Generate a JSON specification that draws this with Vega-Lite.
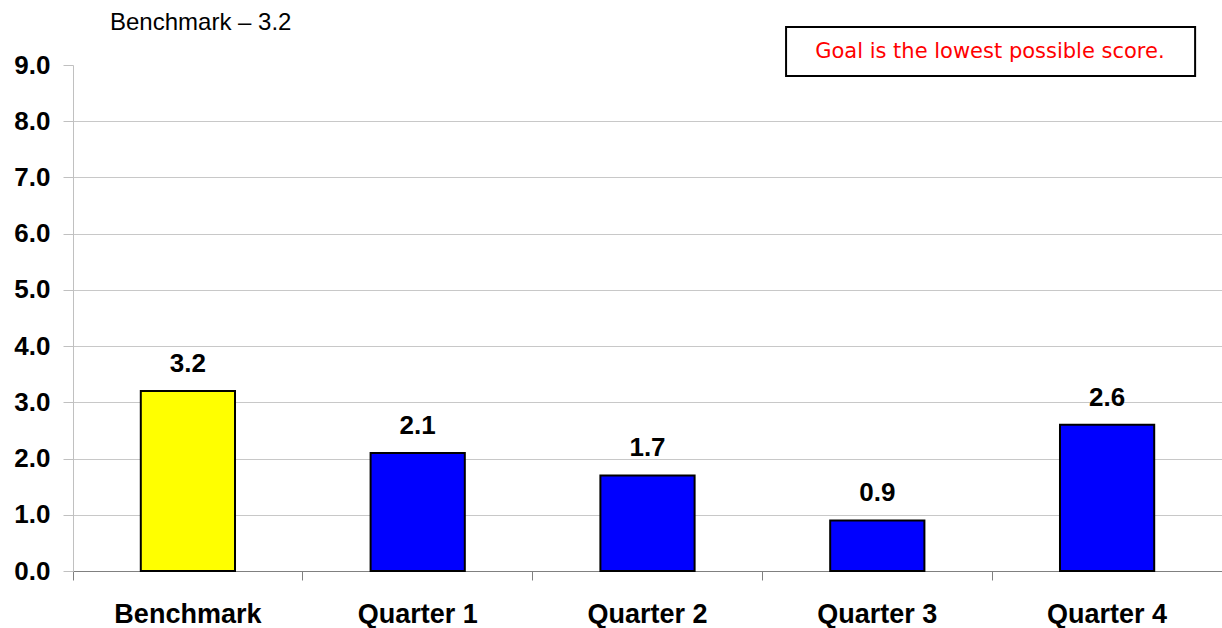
{
  "$schema": "https://vega.github.io/schema/vega-lite/v6.json",
  "width": 1149,
  "height": 506,
  "autosize": {"type": "none"},
  "padding": {"left": 73, "top": 65, "right": 0, "bottom": 57},
  "background": "white",
  "title": {"text": "Benchmark – 3.2", "anchor": "start", "frame": "group", "dx": 37, "offset": -28, "baseline": "alphabetic", "font": "Liberation Sans", "fontSize": 24, "fontWeight": "normal", "color": "black"},
  "config": {"view": {"stroke": null}, "font": "Liberation Sans"},
  "datasets": {
    "scores": [
      {"category": "Benchmark", "value": 3.2},
      {"category": "Quarter 1", "value": 2.1},
      {"category": "Quarter 2", "value": 1.7},
      {"category": "Quarter 3", "value": 0.9},
      {"category": "Quarter 4", "value": 2.6}
    ],
    "note": [
      {"x1": 3.103, "x2": 4.883, "y1": 8.804, "y2": 9.676, "xm": 3.99, "ym": 9.23, "text": "Goal is the lowest possible score."}
    ]
  },
  "layer": [
    {
      "layer": [
        {
          "data": {"name": "scores"},
          "mark": {"type": "bar", "stroke": "black", "strokeWidth": 2},
          "encoding": {
            "x": {"field": "category", "type": "nominal", "sort": null,
              "scale": {"paddingInner": 0.59, "paddingOuter": 0.295},
              "axis": {"title": null, "labelAngle": 0, "bandPosition": -0.7195, "ticks": true, "domainColor": "#808080", "tickColor": "#808080", "tickSize": 9, "tickWidth": 1, "labelFontSize": 27, "labelFontWeight": "bold", "labelColor": "black", "labelPadding": 21, "grid": false}},
            "y": {"field": "value", "type": "quantitative",
              "scale": {"domain": [0, 9], "nice": false},
              "axis": {"title": null, "values": [0, 1, 2, 3, 4, 5, 6, 7, 8, 9], "format": ".1f", "domainColor": "#c0c0c0", "tickColor": "#c0c0c0", "tickSize": 10, "labelFontSize": 26, "labelFontWeight": "bold", "labelColor": "black", "labelPadding": 13, "gridColor": "#c8c8c8", "gridOpacity": {"condition": {"test": "datum.value === 9", "value": 0}, "value": 1}}},
            "color": {"condition": {"test": "datum.category === 'Benchmark'", "value": "#ffff00"}, "value": "#0000ff"}
          }
        },
        {
          "data": {"name": "scores"},
          "mark": {"type": "text", "baseline": "bottom", "dy": -14, "fontSize": 26, "fontWeight": "bold", "color": "black"},
          "encoding": {
            "x": {"field": "category", "type": "nominal", "sort": null},
            "y": {"field": "value", "type": "quantitative"},
            "text": {"field": "value", "type": "quantitative", "format": ".1f"}
          }
        }
      ]
    },
    {
      "layer": [
        {
          "data": {"name": "note"},
          "mark": {"type": "rect", "fill": "white", "stroke": "black", "strokeWidth": 2},
          "encoding": {
            "x": {"field": "x1", "type": "quantitative", "scale": {"domain": [0, 5], "nice": false, "zero": false}, "axis": null},
            "x2": {"field": "x2"},
            "y": {"field": "y1", "type": "quantitative"},
            "y2": {"field": "y2"}
          }
        },
        {
          "data": {"name": "note"},
          "mark": {"type": "text", "color": "#ff0000", "fontSize": 21, "font": "DejaVu Sans", "baseline": "middle"},
          "encoding": {
            "x": {"field": "xm", "type": "quantitative", "axis": null},
            "y": {"field": "ym", "type": "quantitative"},
            "text": {"field": "text"}
          }
        }
      ]
    }
  ],
  "resolve": {"scale": {"x": "independent"}}
}
